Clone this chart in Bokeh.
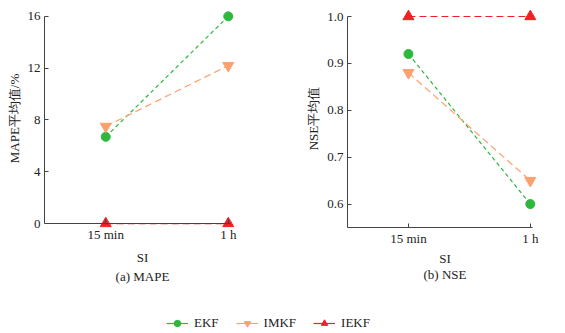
from bokeh.plotting import figure
from bokeh.layouts import column, row
from bokeh.models import (Range1d, FixedTicker, PrintfTickFormatter, Title, Legend, LegendItem,
                          ColumnDataSource, LinearAxis)
from bokeh.embed import file_html
from bokeh.resources import INLINE

categories = ["15 min", "1 h"]
mape_ekf = [6.7, 16.0]
mape_imkf = [7.5, 12.2]
mape_iekf = [0.0, 0.0]
nse_ekf = [0.92, 0.60]
nse_imkf = [0.88, 0.65]
nse_iekf = [1.0, 1.0]
mape_ticks = [0, 4, 8, 12, 16]
nse_ticks = [0.6, 0.7, 0.8, 0.9, 1.0]

FONT = "Liberation Serif"
GREEN = "#2db83d"
ORANGE = "#fca06e"
RED = "#ee2222"
AXC = "#444444"
TXT = "#222222"

xpos = [i + 0.5 for i in range(len(categories))]
x_labels = {xpos[i]: c for i, c in enumerate(categories)}

series = [
    ("EKF", GREEN, "circle", 9, "4 3"),
    ("IMKF", ORANGE, "inverted_triangle", 11, "7 4"),
    ("IEKF", RED, "triangle", 11, "7 4"),
]


def style_axis(ax):
    ax.axis_line_color = AXC
    ax.major_tick_line_color = AXC
    ax.major_tick_in = 4
    ax.major_tick_out = 0
    ax.minor_tick_line_color = None
    ax.major_label_text_font = FONT
    ax.major_label_text_font_size = "13px"
    ax.major_label_text_color = TXT
    ax.axis_label_text_font = FONT
    ax.axis_label_text_font_size = "13px"
    ax.axis_label_text_font_style = "normal"
    ax.axis_label_text_color = TXT


def make_panel(width, bl, frame_w, yr, ybounds, ticks, ylabel, sub, data, fmt, si_off,
               top, bottom, fixed0, si_standoff):
    p = figure(width=width, height=290, output_backend="svg", toolbar_location=None,
               x_range=Range1d(0, 1.6), y_range=yr,
               x_axis_location=None if fixed0 else "below",
               min_border_left=bl, min_border_right=width - bl - frame_w,
               min_border_top=top, min_border_bottom=bottom)
    p.outline_line_color = None
    p.grid.visible = False
    p.background_fill_color = "white"
    p.border_fill_color = "white"
    if fixed0:
        # axis line and ticks at y = 0 (inside the padded frame)
        a0 = LinearAxis(fixed_location=0, ticker=FixedTicker(ticks=xpos), bounds=(0, 1.52),
                        major_label_overrides={x: "" for x in xpos})
        style_axis(a0)
        a0.major_label_standoff = 0
        p.add_layout(a0, "below")
        # tick labels only
        a1 = LinearAxis(ticker=FixedTicker(ticks=xpos), major_label_overrides=x_labels)
        style_axis(a1)
        a1.axis_line_color = None
        a1.major_tick_line_color = None
        a1.major_label_standoff = -1
        p.add_layout(a1, "below")
    else:
        ax = p.xaxis[0]
        style_axis(ax)
        ax.ticker = FixedTicker(ticks=xpos)
        ax.major_label_overrides = x_labels
        ax.major_label_standoff = 3
        ax.bounds = (0, 1.52)
    ay = p.yaxis[0]
    style_axis(ay)
    ay.ticker = FixedTicker(ticks=ticks)
    ay.formatter = PrintfTickFormatter(format=fmt)
    ay.major_label_standoff = 4
    ay.axis_label = ylabel
    ay.axis_label_standoff = 3
    ay.bounds = ybounds
    for txt, so in (("SI", si_standoff), (sub, -2)):
        t = Title(text=txt, align="center", offset=si_off, text_font=FONT,
                  text_font_size="13px", text_font_style="normal", text_color=TXT,
                  standoff=so)
        p.add_layout(t, "below")
    for (name, color, marker, size, dash), ys in zip(series, data):
        p.line(xpos, ys, line_color=color, line_width=1.2, line_dash=dash)
        p.scatter(xpos, ys, marker=marker, size=size, fill_color=color, line_color=color)
    return p


# left: 0 -> y=227, 16 -> y=16 ; frame from 9 to 231
u1 = 16 / 211
p1 = make_panel(282, 44, 196, Range1d(-4 * u1, 16 + 7 * u1), (0, 16), mape_ticks,
                "MAPE平均值/%", "(a) MAPE", [mape_ekf, mape_imkf, mape_iekf], "%d", -9,
                9, 290 - 231, True, 6)
# right: 0.55 -> y=227, 1.0 -> y=16 ; frame from 9 to 227
u2 = 0.45 / 211
p2 = make_panel(283, 65, 195, Range1d(0.55, 1.0 + 7 * u2), (0.55, 1.0), nse_ticks,
                "NSE平均值", "(b) NSE", [nse_ekf, nse_imkf, nse_iekf], "%.1f", -26,
                9, 290 - 227, False, 0)

pl = figure(width=565, height=43, output_backend="svg", toolbar_location=None,
            x_range=Range1d(0, 1), y_range=Range1d(0, 1), min_border=0)
pl.axis.visible = False
pl.grid.visible = False
pl.outline_line_color = None
items = []
for name, color, marker, size, dash in series:
    src = ColumnDataSource(dict(x=[-5, -4], y=[-5, -5]))
    r1 = pl.line("x", "y", source=src, line_color=color, line_width=1.2)
    r2 = pl.scatter("x", "y", source=src, marker=marker, size=size - 1, fill_color=color, line_color=color)
    items.append(LegendItem(label=name, renderers=[r1, r2]))
leg = Legend(items=items, orientation="horizontal", location=(166, 2),
             padding=2, margin=0, spacing=17, label_standoff=6,
             glyph_width=22, glyph_height=16, label_height=16,
             label_text_font=FONT, label_text_font_size="13px", label_text_color=TXT,
             border_line_color=None, background_fill_alpha=0)
pl.add_layout(leg, "center")

layout = column(row(p1, p2), pl)
open("out.html", "w").write(file_html(layout, INLINE))
